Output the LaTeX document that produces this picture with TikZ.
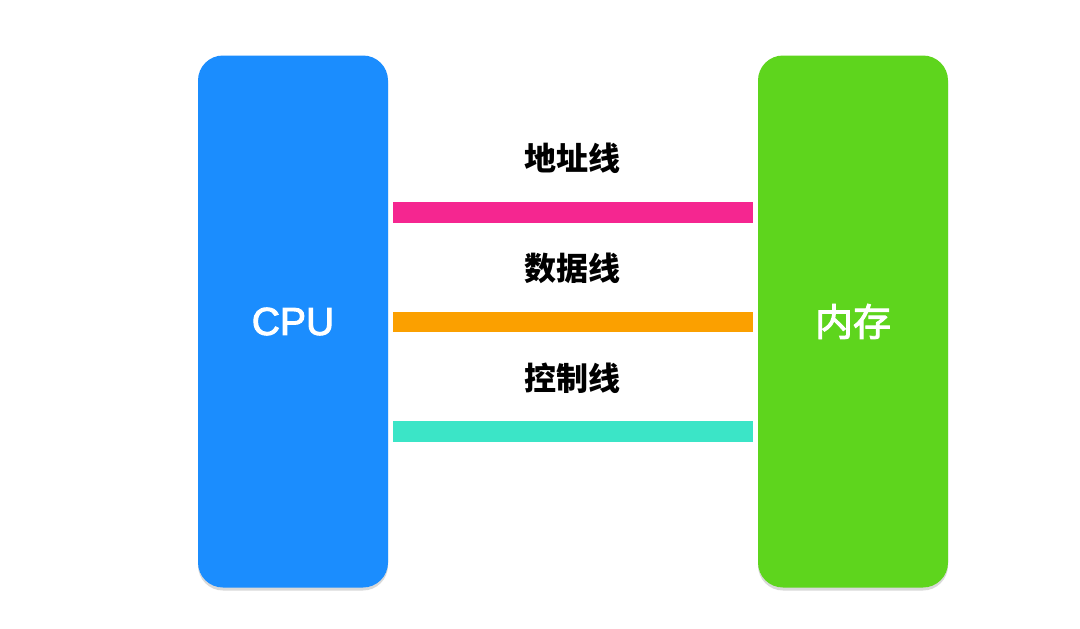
\documentclass[tikz,border=0pt]{standalone}
\usepackage{fontspec}
\newfontfamily\cjk{Noto Sans CJK SC}
\newfontfamily\cjkmed[FakeBold=2.5]{Noto Sans CJK SC}
\newfontfamily\latin[FakeBold=2.5]{Liberation Sans}
\usetikzlibrary{shadows}
\definecolor{cpublue}{RGB}{27,141,254}
\definecolor{memgreen}{RGB}{94,213,29}
\definecolor{buspink}{RGB}{245,38,144}
\definecolor{busorange}{RGB}{251,160,0}
\definecolor{busteal}{RGB}{59,229,199}
\tikzset{
  unit/.style={rounded corners=25pt, minimum width=190pt, minimum height=532pt,
    inner sep=0pt, text=white,
    drop shadow={shadow xshift=0pt, shadow yshift=-3pt, opacity=0.15, fill=black}},
  bus/.style={line width=20.5pt, shorten <=5pt, shorten >=5pt},
  buslabel/.style={font=\cjk\bfseries\fontsize{32}{36}\selectfont, text=black, inner sep=0pt}
}
\begin{document}
\begin{tikzpicture}[x=1pt,y=-1pt]
\useasboundingbox[fill=white] (0,0) rectangle (1080,629);
\node[unit, fill=cpublue, font=\latin\fontsize{39}{44}\selectfont] (cpu) at (293,321.5) {CPU};
\node[unit, fill=memgreen, font=\cjkmed\fontsize{38}{42}\selectfont] (mem) at (853,321.5) {内存};
\draw[bus, buspink]   (cpu.east |- 0,212.5) -- (mem.west |- 0,212.5);
\draw[bus, busorange] (cpu.east |- 0,322)   -- (mem.west |- 0,322);
\draw[bus, busteal]   (cpu.east |- 0,431.5) -- (mem.west |- 0,431.5);
\node[buslabel] (laddr) at (572,158) {地址线};
\node[buslabel] (ldata) at (572,268) {数据线};
\node[buslabel] (lctrl) at (572,378) {控制线};
\end{tikzpicture}
\end{document}
